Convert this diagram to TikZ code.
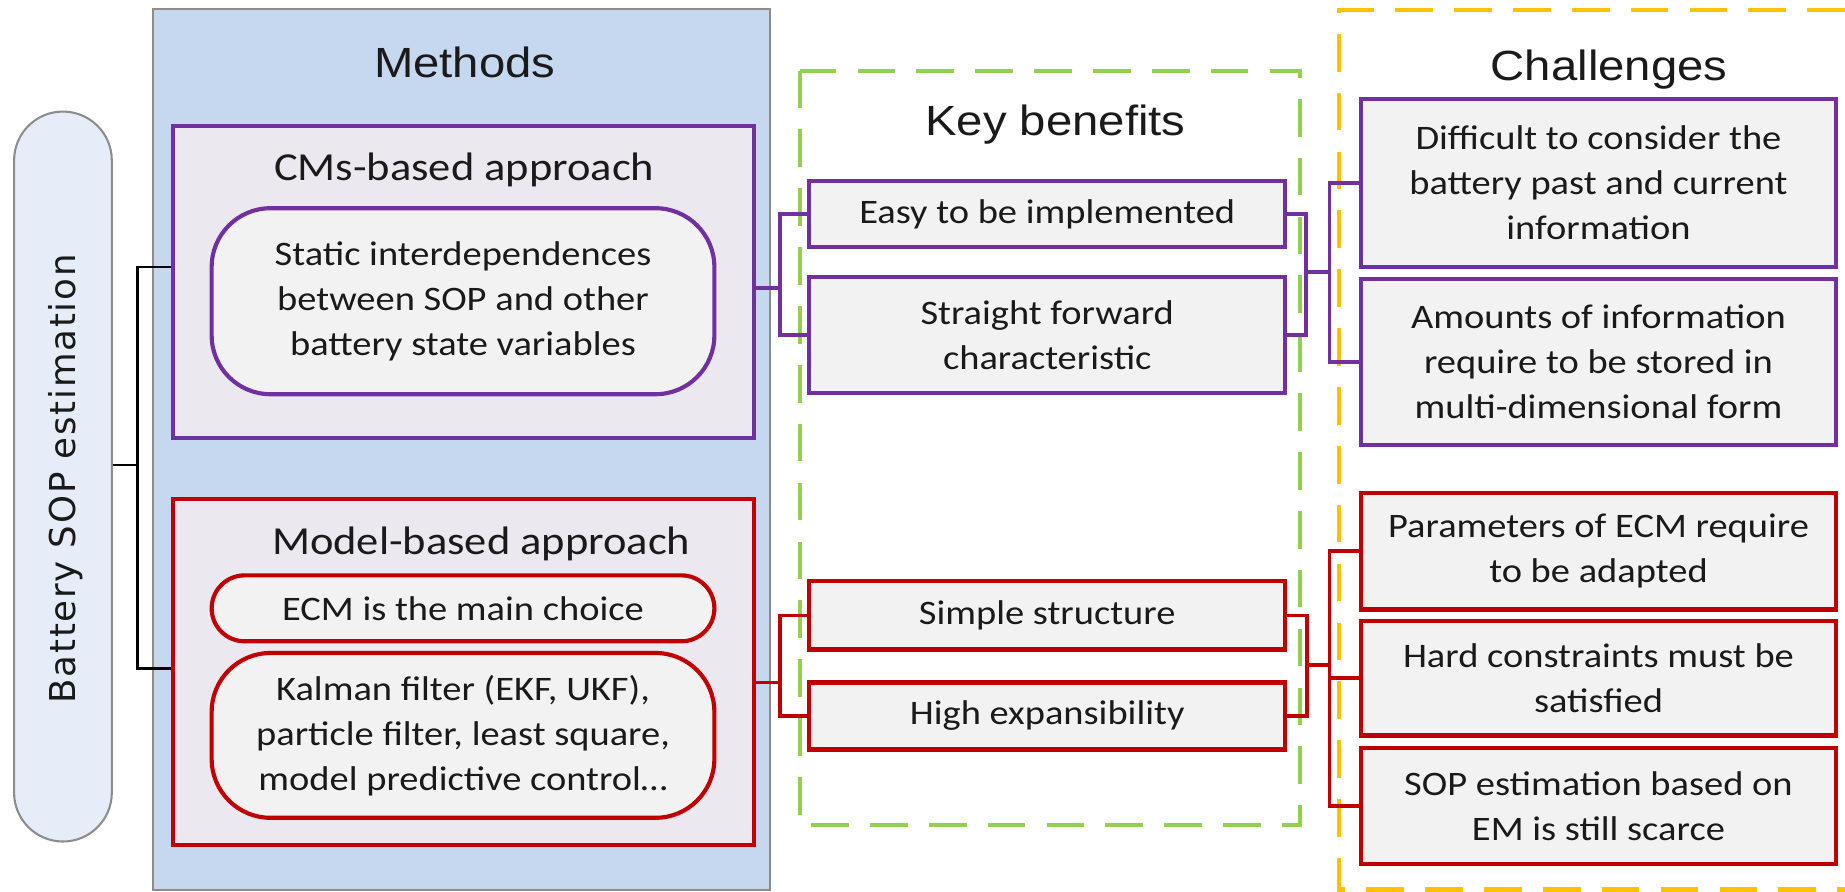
\documentclass[tikz,border=0pt]{standalone}
\usepackage{fontspec}
\setmainfont[FakeStretch=1.12]{Carlito}
\newfontfamily\titlefont[FakeStretch=1.12]{Liberation Sans}
\newfontfamily\sidefont[LetterSpace=5]{DejaVu Sans}

\definecolor{cpurple}{HTML}{7030A0}
\definecolor{cred}{HTML}{C00000}
\definecolor{cgreen}{HTML}{92D050}
\definecolor{corange}{HTML}{FFC000}
\definecolor{methodsbg}{HTML}{C6D8EF}
\definecolor{groupbg}{HTML}{ECE8F0}
\definecolor{itembg}{HTML}{F2F2F2}
\definecolor{sidebg}{HTML}{E7EDF8}
\definecolor{framegray}{HTML}{8C8C8C}
\definecolor{ink}{HTML}{1A1A1A}

\tikzset{
  body/.style={font=\fontsize{8.3}{10.9}\selectfont, text=ink, align=center, inner sep=0pt},
  titletext/.style={font=\titlefont\fontsize{10.2}{12}\selectfont, text=ink, anchor=base, inner sep=0pt},
  subtitle/.style={font=\fontsize{9.6}{11}\selectfont, text=ink, anchor=base, inner sep=0pt},
  itembox/.style={body, draw=#1, fill=itembg, line width=1pt, minimum width=4.04cm},
  groupbox/.style={draw=#1, fill=groupbg, line width=1pt, minimum width=4.94cm, inner sep=0pt},
  pill/.style={body, draw=#1, fill=itembg, line width=1pt, minimum width=4.27cm},
  pconn/.style={draw=cpurple, line width=0.9pt},
  rconn/.style={draw=cred, line width=0.9pt},
  bconn/.style={draw=black, line width=0.6pt},
  gframe/.style={draw=cgreen, line width=1pt, dash pattern=on 0.32cm off 0.18cm},
  oframe/.style={draw=corange, line width=1pt, dash pattern=on 0.32cm off 0.18cm},
}

\begin{document}
\begin{tikzpicture}[x=0.01cm, y=-0.01cm]
\useasboundingbox (0,0) rectangle (1568,758);

% dashed frames of the two right-hand columns
\draw[gframe] (680,60) rectangle (1105,701);
\draw[oframe] (1568,8.5) -| (1138,756) -- (1568,756);

% methods column
\node[draw=framegray, fill=methodsbg, line width=0.5pt, inner sep=0pt,
      minimum width=5.24cm, minimum height=7.48cm] (methods) at (392,382) {};
\node[titletext] (methodstitle) at (395,66) {Methods};

\node[groupbox=cpurple, minimum height=2.65cm] (cms) at (394,239.5) {};
\node[subtitle] (cmstitle) at (394.5,153) {CMs-based approach};
\node[pill=cpurple, minimum height=1.58cm, rounded corners=0.5cm] (static) at (393.5,256)
  {Static interdependences\\between SOP and other\\battery state variables};

\node[groupbox=cred, minimum height=2.94cm] (model) at (394,571) {};
\node[subtitle] (modeltitle) at (409,471.5) {Model-based approach};
\node[pill=cred, minimum height=0.56cm, rounded corners=0.28cm] (ecm) at (393.5,517)
  {ECM is the main choice};
\node[pill=cred, minimum height=1.40cm, rounded corners=0.5cm] (kalman) at (393.5,625)
  {Kalman filter (EKF, UKF),\\particle filter, least square,\\model predictive control…};

% root of the tree
\node[draw=framegray, fill=sidebg, line width=0.5pt, rounded corners=0.415cm,
      minimum width=0.83cm, minimum height=6.20cm, inner sep=0pt] (batt) at (53.5,405) {};
\node[font=\sidefont\fontsize{8.6}{10}\selectfont, text=ink, rotate=90, inner sep=0pt]
  (batttext) at (56,407) {Battery SOP estimation};

% key benefits column
\node[titletext] (kbtitle) at (897,115.5) {Key benefits};
\node[itembox=cpurple, minimum height=0.56cm] (easy) at (890,182) {Easy to be implemented};
\node[itembox=cpurple, minimum height=0.99cm] (straight) at (890,284.7) {Straight forward\\characteristic};
\node[itembox=cred, minimum height=0.58cm] (simple) at (890,523) {Simple structure};
\node[itembox=cred, minimum height=0.57cm] (high) at (890,608.5) {High expansibility};

% challenges column
\node[titletext] (chtitle) at (1367.5,68) {Challenges};
\node[itembox=cpurple, minimum height=1.43cm] (diff) at (1358.5,155.5)
  {Difficult to consider the\\battery past and current\\information};
\node[itembox=cpurple, minimum height=1.41cm] (amount) at (1358.5,307.5)
  {Amounts of information\\require to be stored in\\multi-dimensional form};
\node[itembox=cred, minimum height=0.99cm] (param) at (1358.5,468.5)
  {Parameters of ECM require\\to be adapted};
\node[itembox=cred, minimum height=0.97cm] (hard) at (1358.5,576.5)
  {Hard constraints must be\\satisfied};
\node[itembox=cred, minimum height=0.98cm] (sopem) at (1358.5,685)
  {SOP estimation based on\\EM is still scarce};

% tree connectors: root to the two approaches
\coordinate (mjoin) at (117,395);
\coordinate (mtop) at (117,227);
\coordinate (mbot) at (117,568);
\draw[bconn] (batt.east |- mjoin) -- (mjoin);
\draw[bconn] (cms.west |- mtop) -- (mtop) -- (mbot) -- (model.west |- mbot);

% CMs-based branch
\coordinate (pL) at (663,245);
\coordinate (pR) at (1110,231);
\coordinate (pC) at (1130,231);
\draw[pconn] (cms.east |- pL) -- (pL);
\draw[pconn] (easy.west) -| (pL) |- (straight.west);
\draw[pconn] (easy.east) -| (pR) |- (straight.east);
\draw[pconn] (pR) -- (pC);
\draw[pconn] (diff.west) -| (pC) |- (amount.west);

% model-based branch
\coordinate (rL) at (663,580);
\coordinate (rR) at (1111,565);
\coordinate (rC) at (1130,565);
\draw[rconn] (model.east |- rL) -- (rL);
\draw[rconn] (simple.west) -| (rL) |- (high.west);
\draw[rconn] (simple.east) -| (rR) |- (high.east);
\draw[rconn] (rR) -- (rC);
\draw[rconn] (param.west) -| (rC) |- (sopem.west);
\draw[rconn] (hard.west) -- (hard.west -| rC);
\end{tikzpicture}
\end{document}
